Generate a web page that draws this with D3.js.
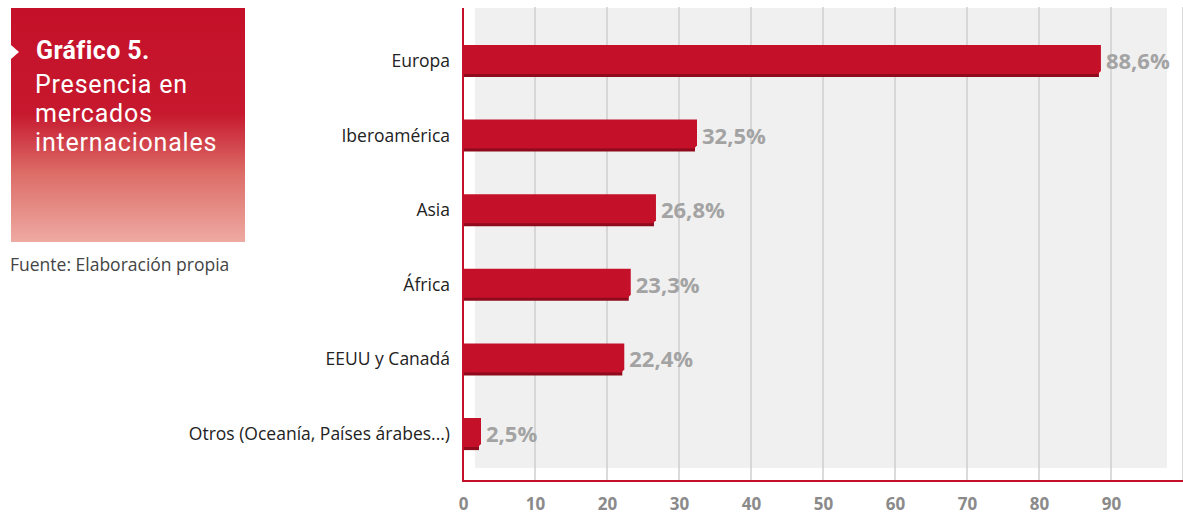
<!DOCTYPE html>
<html>
<head>
<meta charset="utf-8">
<script src="https://cdn.jsdelivr.net/npm/d3@7"></script>
<style>
  html, body { margin: 0; padding: 0; background: #fff; }
  svg { display: block; font-family: "Open Sans", Roboto, sans-serif; }
</style>
</head>
<body>
<svg id="chart" width="1183" height="515"></svg>
<script>
// Regions and share of companies present in each (%)
const categories = ["Europa", "Iberoamérica", "Asia", "África", "EEUU y Canadá", "Otros (Oceanía, Países árabes...)"];
const values = [88.6, 32.5, 26.8, 23.3, 22.4, 2.5];
const tickValues = [0, 10, 20, 30, 40, 50, 60, 70, 80, 90];
const gridValues = [10, 20, 30, 40, 50, 60, 70, 80, 90, 100];

const svg = d3.select("#chart");
const red = "#c41028";
const darkRed = "#8e0a1c";

const x = d3.scaleLinear().domain([0, 100]).range([463, 1183]);
const y = d3.scaleBand().domain(categories).range([24, 471]).paddingInner(0.57).paddingOuter(0.28);

// Title panel with fading red gradient
const defs = svg.append("defs");
const grad = defs.append("linearGradient").attr("id", "panelGrad")
  .attr("x1", 0).attr("y1", 0).attr("x2", 0).attr("y2", 1);
grad.append("stop").attr("offset", "0").attr("stop-color", "#c41129");
grad.append("stop").attr("offset", "0.45").attr("stop-color", "#c6182e");
grad.append("stop").attr("offset", "0.7").attr("stop-color", "#dc6b66");
grad.append("stop").attr("offset", "1").attr("stop-color", "#eeaaa2");

svg.append("rect").attr("x", 11).attr("y", 8).attr("width", 234).attr("height", 234)
  .attr("fill", "url(#panelGrad)");
svg.append("path").attr("d", "M11,45 L19,52 L11,59 Z").attr("fill", "#fff");

const title = svg.append("text").attr("fill", "#fff").attr("font-family", "Roboto, sans-serif");
title.append("tspan").attr("x", 36).attr("y", 59).attr("font-size", 25)
  .attr("font-weight", 700).attr("letter-spacing", 0.4).text("Gráfico 5.");
["Presencia en", "mercados", "internacionales"].forEach((t, i) => {
  title.append("tspan").attr("x", 35).attr("y", 93 + i * 29).attr("font-size", 25)
    .attr("font-weight", 400).attr("letter-spacing", 0.8).text(t);
});

svg.append("text").attr("x", 10).attr("y", 271).attr("font-size", 17.5).attr("fill", "#444")
  .text("Fuente: Elaboración propia");

// Plot background
svg.append("rect").attr("x", 475).attr("y", 8).attr("width", 1167 - 475).attr("height", 468 - 8).attr("fill", "#f0f0f0");

// Gridlines
svg.append("g").selectAll("line").data(gridValues).join("line")
  .attr("x1", d => x(d)).attr("x2", d => x(d))
  .attr("y1", 7).attr("y2", 481)
  .attr("stroke", "#cfcfcf").attr("stroke-width", 1.5);

// Bars with a darker bottom edge and slanted right end
const bars = svg.append("g").selectAll("g").data(categories).join("g");
bars.append("path")
  .attr("d", (d, i) => {
    const x0 = x(0), x1 = x(values[i]), t = y(d), b = t + y.bandwidth();
    return `M${x0},${t + 2} L${x1 - 2},${t + 2} L${x1 - 2},${b} L${x0},${b} Z`;
  })
  .attr("fill", darkRed);
bars.append("path")
  .attr("d", (d, i) => {
    const x0 = x(0), x1 = x(values[i]), t = y(d), b = t + y.bandwidth() - 3;
    return `M${x0},${t} L${x1},${t} L${x1},${b - 3} L${x1 - 3},${b} L${x0},${b} Z`;
  })
  .attr("fill", red);

// Value labels
bars.append("text")
  .attr("x", (d, i) => x(values[i]) + 5)
  .attr("y", d => y(d) + y.bandwidth() / 2 + 8)
  .attr("font-size", 22).attr("font-weight", 700).attr("fill", "#a3a3a3")
  .text((d, i) => d3.format(".1f")(values[i]).replace(".", ",") + "%");

// Category labels
svg.append("g").selectAll("text").data(categories).join("text")
  .attr("x", 450).attr("y", d => y(d) + y.bandwidth() / 2 + 6)
  .attr("text-anchor", "end").attr("font-size", 17.5).attr("fill", "#222")
  .text(d => d);

// Axis lines
svg.append("line").attr("x1", x(0)).attr("x2", x(0)).attr("y1", 8).attr("y2", 481)
  .attr("stroke", red).attr("stroke-width", 2);
svg.append("line").attr("x1", x(0) - 1).attr("x2", 1183).attr("y1", 481).attr("y2", 481)
  .attr("stroke", red).attr("stroke-width", 2);

// Tick labels
const axis = d3.axisBottom(x).tickValues(tickValues).tickSize(0).tickPadding(0);
const gAxis = svg.append("g").attr("transform", "translate(0,498)").call(axis);
gAxis.select(".domain").remove();
gAxis.selectAll("text").attr("font-size", 17).attr("font-weight", 700).attr("fill", "#8a8a8a")
  .attr("font-family", "'Open Sans', sans-serif");
</script>
</body>
</html>
